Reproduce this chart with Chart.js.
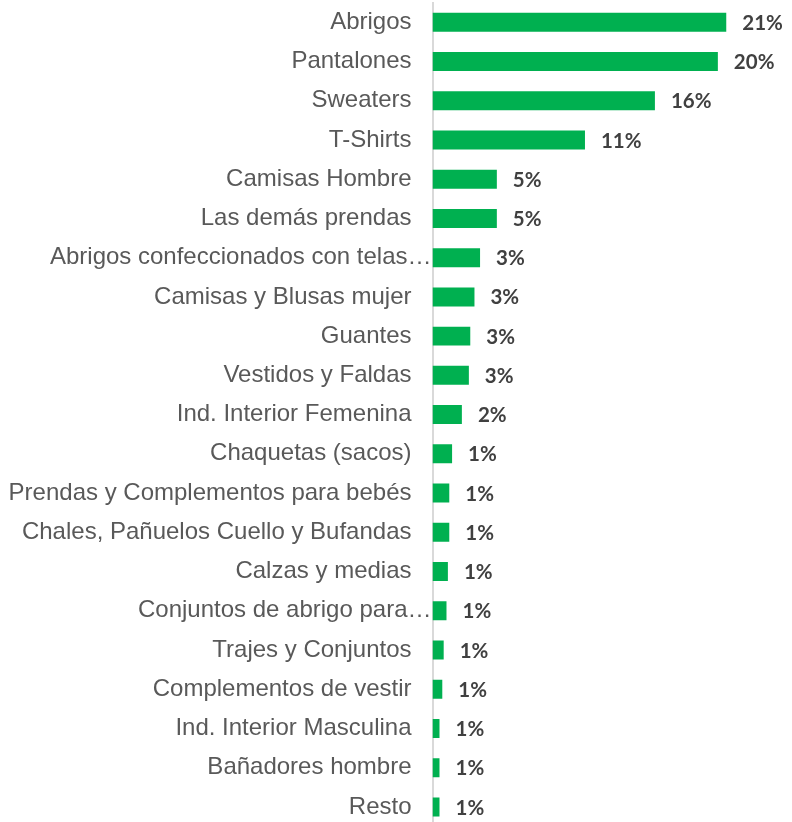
<!DOCTYPE html>
<html>
<head>
<meta charset="utf-8">
<script src="https://cdn.jsdelivr.net/npm/chart.js@4"></script>
<style>
html,body{margin:0;padding:0;background:#fff;overflow:hidden;}
#wrap{width:792px;height:828px;}
</style>
</head>
<body>
<div id="wrap"><canvas id="c" width="792" height="828"></canvas></div>
<script>
const categories = [
  "Abrigos",
  "Pantalones",
  "Sweaters",
  "T-Shirts",
  "Camisas Hombre",
  "Las demás prendas",
  "Abrigos confeccionados con telas…",
  "Camisas y Blusas mujer",
  "Guantes",
  "Vestidos y Faldas",
  "Ind. Interior Femenina",
  "Chaquetas (sacos)",
  "Prendas y Complementos para bebés",
  "Chales, Pañuelos Cuello y Bufandas",
  "Calzas y medias",
  "Conjuntos de abrigo para…",
  "Trajes y Conjuntos",
  "Complementos de vestir",
  "Ind. Interior Masculina",
  "Bañadores hombre",
  "Resto"
];
const shares = [21.0, 20.4, 15.9, 10.9, 4.6, 4.6, 3.4, 3.0, 2.7, 2.6, 2.1, 1.4, 1.2, 1.2, 1.1, 1.0, 0.8, 0.7, 0.5, 0.5, 0.5];
const valueLabels = ["21%","20%","16%","11%","5%","5%","3%","3%","3%","3%","2%","1%","1%","1%","1%","1%","1%","1%","1%","1%","1%"];

const labelPlugin = {
  id: 'valueLabels',
  afterDatasetsDraw(chart) {
    const ctx = chart.ctx;
    const meta = chart.getDatasetMeta(0);
    const yScale = chart.scales.y;
    ctx.save();
    // value labels
    ctx.font = 'bold 20.5px Lato';
    ctx.fillStyle = '#404040';
    ctx.textAlign = 'left';
    ctx.textBaseline = 'middle';
    meta.data.forEach((bar, i) => {
      ctx.fillText(valueLabels[i], bar.x + 16, bar.y + 1);
    });
    // category labels (truncated ones overhang toward the axis like the original)
    ctx.font = '24px "Liberation Sans", Arial, sans-serif';
    ctx.fillStyle = '#595959';
    ctx.textAlign = 'right';
    categories.forEach((lab, i) => {
      const y = yScale.getPixelForTick(i);
      const xr = lab.endsWith('…') ? yScale.right - 1 : yScale.right - 21;
      ctx.fillText(lab, xr, y);
    });
    ctx.restore();
  }
};

new Chart(document.getElementById('c'), {
  type: 'bar',
  data: {
    labels: categories,
    datasets: [{
      data: shares,
      backgroundColor: '#00B050',
      borderWidth: 0,
      barPercentage: 0.484,
      categoryPercentage: 1.0
    }]
  },
  options: {
    indexAxis: 'y',
    responsive: false,
    devicePixelRatio: 1,
    animation: false,
    layout: { padding: { top: 2.6, bottom: 1.4, left: 0, right: 0 } },
    plugins: { legend: { display: false }, tooltip: { enabled: false } },
    scales: {
      x: {
        display: false,
        min: 0,
        max: 25.7
      },
      y: {
        afterFit(scale) { scale.width = 432.5; scale.paddingTop = 0; scale.paddingBottom = 0; },
        grid: { display: false, drawTicks: false },
        border: { display: true, color: '#d9d9d9', width: 2 },
        ticks: {
          display: false,
          autoSkip: false
        }
      }
    }
  },
  plugins: [labelPlugin]
});
</script>
</body>
</html>
